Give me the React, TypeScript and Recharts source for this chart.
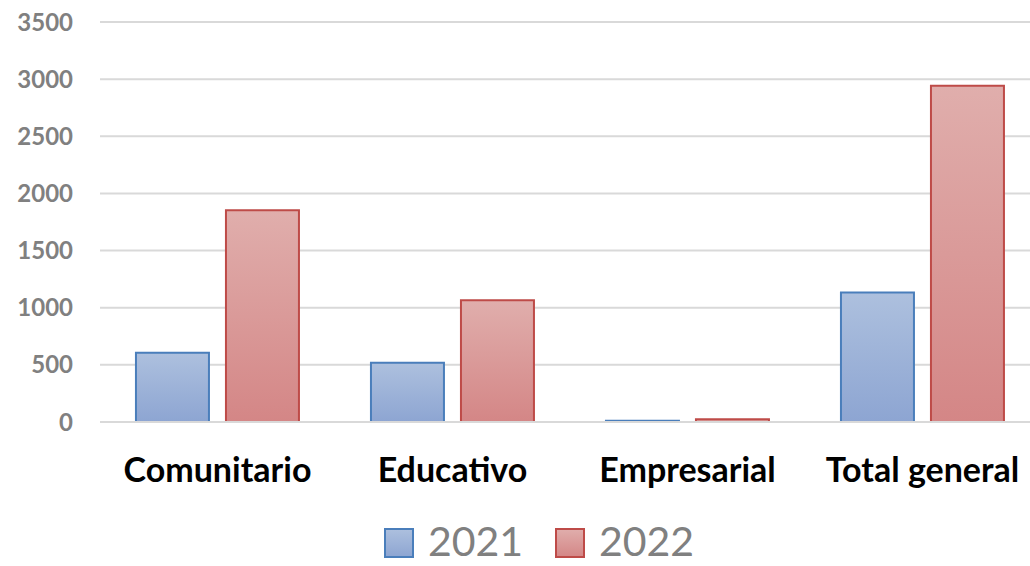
import React from 'react';
import { BarChart, Bar, XAxis, YAxis, CartesianGrid, Legend } from 'recharts';

const categories = ['Comunitario', 'Educativo', 'Empresarial', 'Total general'];
const values2021 = [605, 518, 10, 1133];
const values2022 = [1852, 1066, 24, 2942];
const yTicks = [0, 500, 1000, 1500, 2000, 2500, 3000, 3500];

const data = categories.map((name, i) => ({
  name,
  y2021: values2021[i],
  y2022: values2022[i],
}));

const FONT = 'Lato, "Liberation Sans", sans-serif';

const legendItems = [
  { label: '2021', top: '#adc0de', bottom: '#8da5d2', stroke: '#4a7ebb' },
  { label: '2022', top: '#e0aeac', bottom: '#d48686', stroke: '#be4b48' },
];

function LegendContent() {
  return (
    <div
      style={{
        display: 'flex',
        justifyContent: 'center',
        alignItems: 'center',
        fontFamily: FONT,
        paddingLeft: 38,
        position: 'relative',
        top: 4,
      }}
    >
      {legendItems.map((it, i) => (
        <div key={it.label} style={{ display: 'flex', alignItems: 'center', marginLeft: i ? 32 : 0 }}>
          <svg width={30} height={30} style={{ marginRight: 14, marginTop: 3 }}>
            <defs>
              <linearGradient id={'lg' + i} x1="0" y1="0" x2="0" y2="1">
                <stop offset="0%" stopColor={it.top} />
                <stop offset="100%" stopColor={it.bottom} />
              </linearGradient>
            </defs>
            <rect x={1} y={1} width={28} height={28} fill={`url(#lg${i})`} stroke={it.stroke} strokeWidth={2} />
          </svg>
          <span style={{ fontSize: 41, color: '#808080', lineHeight: '42px' }}>{it.label}</span>
        </div>
      ))}
    </div>
  );
}

export default function App() {
  return (
    <div style={{ position: 'absolute', left: 0, top: 0, width: 1030, height: 566, background: '#fff', overflow: 'hidden' }}>
      <BarChart
        width={1040}
        height={566}
        data={data}
        margin={{ top: 22, right: 0, bottom: 8, left: 0 }}
        barCategoryGap="15.3%"
        barGap={17}
      >
        <defs>
          <linearGradient id="g2021" x1="0" y1="0" x2="0" y2="1">
            <stop offset="0%" stopColor="#adc0de" />
            <stop offset="100%" stopColor="#8da5d2" />
          </linearGradient>
          <linearGradient id="g2022" x1="0" y1="0" x2="0" y2="1">
            <stop offset="0%" stopColor="#e0aeac" />
            <stop offset="100%" stopColor="#d48686" />
          </linearGradient>
        </defs>
        <CartesianGrid vertical={false} stroke="#d9d9d9" strokeWidth={2} />
        <XAxis
          dataKey="name"
          axisLine={{ stroke: '#d9d9d9', strokeWidth: 2 }}
          tickLine={false}
          height={94}
          tickMargin={30}
          interval={0}
          tick={{ fill: '#000', fontSize: 34, fontWeight: 700, fontFamily: FONT }}
        />
        <YAxis
          domain={[0, 3500]}
          ticks={yTicks}
          width={100}
          axisLine={false}
          tickLine={false}
          tickSize={0}
          tickMargin={27}
          interval={0}
          tick={{ fill: '#808080', fontSize: 24, fontWeight: 700, fontFamily: FONT }}
        />
        <Legend verticalAlign="bottom" content={<LegendContent />} />
        <Bar dataKey="y2021" name="2021" fill="url(#g2021)" stroke="#4a7ebb" strokeWidth={2} isAnimationActive={false} />
        <Bar dataKey="y2022" name="2022" fill="url(#g2022)" stroke="#be4b48" strokeWidth={2} isAnimationActive={false} />
      </BarChart>
    </div>
  );
}
